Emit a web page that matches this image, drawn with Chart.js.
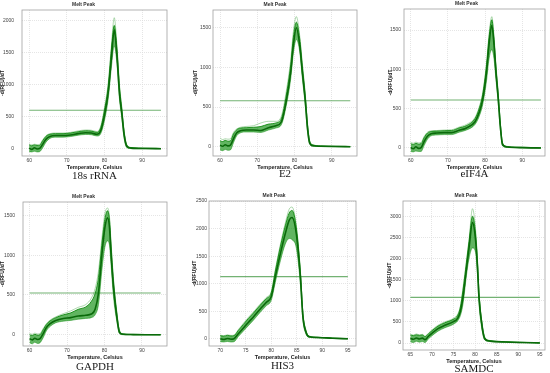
<!DOCTYPE html>
<html>
<head>
<meta charset="utf-8">
<script src="https://cdn.jsdelivr.net/npm/chart.js@4.4.0/dist/chart.umd.min.js"></script>
<style>
  body { margin: 0; background: #fff; }
  #wrap { position: relative; width: 550px; height: 373px; overflow: hidden; }
  canvas { position: absolute; }
  .cap { position: absolute; width: 120px; text-align: center; font-family: "Liberation Serif", serif; font-size: 11px; line-height: 12px; color: #1a1a1a; }
</style>
</head>
<body>
<div id="wrap"></div>
<script>
// 18s rRNA
const rrnaTemps = [60, 60.7, 61.4, 62.1, 62.8, 63.6, 64.5, 65.5, 67, 69, 71, 73, 75, 76.5, 78, 79, 80, 81, 81.8, 82.6, 83.3, 84, 84.6, 85.2, 85.9, 87, 91, 95];
const rrnaMid = [10, -10, 15, -5, 5, 70, 150, 190, 205, 205, 215, 235, 250, 245, 225, 280, 520, 880, 1380, 1850, 1450, 850, 550, 220, 40, 10, 4, 0];
const rrnaHi  = [60, 45, 60, 50, 55, 125, 195, 225, 235, 235, 245, 265, 280, 275, 255, 330, 600, 980, 1520, 1920, 1560, 950, 620, 270, 60, 18, 8, 4];
const rrnaTop = [75, 60, 70, 65, 70, 140, 205, 235, 245, 245, 255, 278, 292, 288, 268, 350, 640, 1030, 1580, 2040, 1620, 990, 650, 290, 70, 20, 9, 5];
const rrnaLo  = [-45, -50, -40, -50, -45, 15, 105, 160, 180, 180, 190, 210, 222, 218, 198, 235, 440, 780, 1250, 1600, 1330, 760, 480, 170, 20, 3, 0, -2];
const rrnaThreshold = 600;
const rrnaXTicks = [60, 70, 80, 90];
const rrnaYTicks = [0, 500, 1000, 1500, 2000];

// E2
const e2Temps = [60, 60.7, 61.4, 62.1, 62.8, 63.6, 64.5, 65.5, 67, 69, 71, 73, 75, 76.5, 77.8, 79, 79.7, 80.5, 81.4, 82.1, 82.9, 83.5, 84.1, 85, 87, 91, 95];
const e2Mid = [20, 5, 25, 10, 20, 100, 175, 200, 210, 210, 205, 240, 265, 315, 580, 945, 1280, 1500, 1280, 945, 580, 232, 45, 12, 6, 2, 0];
const e2Hi  = [75, 65, 80, 70, 75, 160, 215, 235, 240, 245, 255, 285, 300, 360, 650, 1040, 1380, 1570, 1360, 1020, 640, 280, 65, 22, 10, 5, 2];
const e2Top = [110, 90, 100, 95, 100, 180, 225, 245, 255, 265, 300, 320, 320, 390, 700, 1100, 1450, 1640, 1400, 1060, 670, 300, 75, 25, 12, 6, 3];
const e2Lo  = [-40, -50, -35, -45, -40, 50, 140, 175, 185, 185, 180, 210, 235, 280, 520, 860, 1180, 1350, 1200, 870, 520, 190, 30, 6, 2, 0, -2];
const e2Threshold = 580;
const e2XTicks = [60, 70, 80, 90];
const e2YTicks = [0, 500, 1000, 1500];

// eIF4A
const eifTemps = [60, 60.7, 61.4, 62.1, 62.8, 63.6, 64.5, 65.5, 67, 69, 71, 73, 75, 77.3, 78.4, 79.35, 80.4, 81.05, 81.8, 82.4, 82.9, 83.55, 84.1, 84.7, 86, 90, 95];
const eifMid = [5, -10, 15, -5, 5, 80, 150, 180, 190, 195, 195, 225, 255, 334, 450, 614, 970, 1309, 1560, 1309, 970, 614, 270, 40, 12, 4, 0];
const eifHi  = [55, 45, 60, 50, 55, 130, 190, 210, 215, 220, 222, 255, 285, 375, 500, 680, 1060, 1400, 1630, 1380, 1040, 670, 310, 60, 18, 8, 3];
const eifTop = [70, 60, 75, 65, 70, 145, 200, 218, 222, 228, 232, 265, 300, 390, 520, 700, 1090, 1440, 1670, 1420, 1070, 690, 320, 65, 20, 9, 4];
const eifLo  = [-45, -50, -40, -45, -45, 30, 110, 155, 165, 170, 170, 200, 228, 300, 400, 550, 860, 1130, 1250, 1130, 880, 560, 230, 25, 6, 1, -2];
const eifThreshold = 610;
const eifXTicks = [60, 70, 80, 90];
const eifYTicks = [0, 500, 1000, 1500];

// GAPDH
const gapdhTemps = [60, 60.7, 61.4, 62.1, 62.8, 63.6, 64.5, 65.5, 67, 69, 71, 73, 75, 76.5, 77.5, 78.4, 79.4, 80.1, 80.8, 81.35, 81.7, 82.4, 83.3, 84, 85, 87, 91, 95];
const gapdhMid = [-50, -65, -45, -60, -50, 10, 90, 140, 180, 205, 215, 235, 245, 260, 320, 525, 1054, 1345, 1470, 1345, 1054, 600, 220, 30, 5, 2, 0, 0];
const gapdhHi  = [0, -10, 5, -5, 0, 60, 130, 175, 215, 250, 275, 320, 350, 420, 520, 720, 1180, 1450, 1560, 1440, 1170, 680, 270, 50, 10, 4, 2, 1];
const gapdhTop = [15, 5, 20, 10, 15, 75, 140, 185, 225, 265, 300, 345, 380, 460, 580, 800, 1250, 1520, 1595, 1480, 1210, 710, 290, 60, 12, 5, 3, 1];
const gapdhLo  = [-100, -115, -95, -110, -100, -40, 50, 105, 150, 170, 180, 195, 205, 215, 250, 380, 850, 1100, 1180, 1120, 920, 480, 170, 15, 0, -2, -3, -3];
const gapdhThreshold = 525;
const gapdhXTicks = [60, 70, 80, 90];
const gapdhYTicks = [0, 500, 1000, 1500];

// HIS3
const his3Temps = [70, 70.7, 71.4, 72.1, 72.7, 73.5, 74.5, 75.5, 76.5, 77.8, 79, 80, 80.8, 81.8, 82.75, 83.5, 84.06, 84.9, 85.7, 86.2, 86.8, 87.4, 89, 92, 95];
const his3Mid = [5, -10, 10, -5, 5, 90, 195, 300, 400, 540, 660, 770, 1130, 1550, 1910, 2150, 2200, 1910, 1130, 400, 120, 40, 28, 14, 3];
const his3Hi  = [60, 50, 65, 55, 60, 150, 260, 370, 470, 610, 730, 840, 1230, 1680, 2050, 2280, 2330, 2020, 1220, 460, 150, 50, 32, 16, 5];
const his3Top = [70, 60, 75, 65, 70, 165, 280, 390, 490, 630, 750, 860, 1260, 1720, 2100, 2350, 2390, 2060, 1250, 480, 160, 55, 34, 17, 6];
const his3Lo  = [-50, -55, -45, -55, -50, 40, 140, 240, 340, 480, 600, 700, 1030, 1420, 1720, 1820, 1800, 1650, 1000, 340, 90, 30, 22, 10, 0];
const his3Threshold = 1130;
const his3XTicks = [70, 75, 80, 85, 90, 95];
const his3YTicks = [0, 500, 1000, 1500, 2000, 2500];

// SAMDC
const samdcTemps = [65, 65.7, 66.4, 67.1, 67.8, 68.4, 69.2, 70, 71.4, 73, 74.9, 76, 76.6, 77.2, 78, 78.6, 79.4, 80.1, 80.6, 80.9, 81.7, 82.3, 83.5, 87, 91, 95];
const samdcMid = [110, 90, 120, 95, 115, 80, 160, 230, 340, 420, 500, 590, 750, 1080, 1750, 2250, 2850, 2450, 1700, 1080, 330, 90, 45, 25, 12, 2];
const samdcHi  = [190, 175, 195, 180, 190, 150, 220, 290, 400, 480, 560, 660, 850, 1250, 1900, 2400, 3000, 2600, 1850, 1200, 400, 120, 55, 30, 15, 4];
const samdcTop = [210, 190, 215, 195, 205, 165, 235, 310, 420, 500, 580, 690, 880, 1300, 1950, 2450, 3180, 2700, 1900, 1230, 420, 130, 60, 32, 16, 5];
const samdcLo  = [30, 10, 40, 20, 35, 10, 100, 170, 280, 360, 440, 530, 650, 920, 1600, 2000, 2250, 2150, 1550, 950, 260, 65, 35, 18, 8, 0];
const samdcThreshold = 1080;
const samdcXTicks = [65, 70, 75, 80, 85, 90, 95];
const samdcYTicks = [0, 500, 1000, 1500, 2000, 2500, 3000];

const panels = [
    { name: '18s rRNA', temps: rrnaTemps, mid: rrnaMid, hi: rrnaHi, top: rrnaTop, lo: rrnaLo, thr: rrnaThreshold,
      xt: rrnaXTicks, yt: rrnaYTicks,
      box: { l: 22, t: 9, r: 167, b: 156 }, x: [58.1, 96.6], y: [-113, 2160], yw: 22, gap: 8, capY: 175 },
    { name: 'E2', temps: e2Temps, mid: e2Mid, hi: e2Hi, top: e2Top, lo: e2Lo, thr: e2Threshold,
      xt: e2XTicks, yt: e2YTicks,
      box: { l: 213, t: 10, r: 357, b: 156 }, x: [58.1, 96.8], y: [-117, 1723], yw: 20, gap: 2, capY: 173 },
    { name: 'eIF4A', temps: eifTemps, mid: eifMid, hi: eifHi, top: eifTop, lo: eifLo, thr: eifThreshold,
      xt: eifXTicks, yt: eifYTicks,
      box: { l: 404, t: 9, r: 545, b: 156 }, x: [58.2, 96.1], y: [-102, 1767], yw: 16, gap: 3, capY: 173 },
    { name: 'GAPDH', temps: gapdhTemps, mid: gapdhMid, hi: gapdhHi, top: gapdhTop, lo: gapdhLo, thr: gapdhThreshold,
      xt: gapdhXTicks, yt: gapdhYTicks,
      box: { l: 23, t: 201, r: 167, b: 346 }, x: [58.24, 96.7], y: [-142, 1670], yw: 23, gap: 8, capY: 366 },
    { name: 'HIS3', temps: his3Temps, mid: his3Mid, hi: his3Hi, top: his3Top, lo: his3Lo, thr: his3Threshold,
      xt: his3XTicks, yt: his3YTicks,
      box: { l: 209, t: 201, r: 356, b: 346 }, x: [67.8, 96.6], y: [-127, 2500], yw: 17, gap: 2, capY: 365 },
    { name: 'SAMDC', temps: samdcTemps, mid: samdcMid, hi: samdcHi, top: samdcTop, lo: samdcLo, thr: samdcThreshold,
      xt: samdcXTicks, yt: samdcYTicks,
      box: { l: 403, t: 201, r: 545, b: 350 }, x: [63.3, 96.2], y: [-165, 3361], yw: 16, gap: 2, capY: 368 }
];

Chart.defaults.font.family = '"Liberation Sans", Arial, sans-serif';

// рамка вокруг области графика
const framePlugin = {
    id: 'frame',
    beforeDatasetsDraw(chart) {
        const { ctx, chartArea: a } = chart;
        ctx.save();
        ctx.strokeStyle = '#a0a0a0';
        ctx.lineWidth = 0.8;
        ctx.strokeRect(a.left, a.top, a.right - a.left, a.bottom - a.top);
        ctx.restore();
    }
};

function pts(xs, ys) {
    return xs.map((x, i) => ({ x: x, y: ys[i] }));
}

function curve(data, color, width, extra) {
    return Object.assign({
        data: data,
        borderColor: color,
        borderWidth: width,
        pointRadius: 0,
        cubicInterpolationMode: 'monotone',
        fill: false
    }, extra || {});
}

function buildPanel(p) {
    const wrap = document.getElementById('wrap');
    const left = p.box.l - p.yw;
    const top = p.box.t - 10;
    const w = p.box.r - left + 3;
    const h = p.box.b - top + 16;

    const cv = document.createElement('canvas');
    cv.width = w;
    cv.height = h;
    cv.style.left = left + 'px';
    cv.style.top = top + 'px';
    wrap.appendChild(cv);

    const last = p.temps.length - 1;
    new Chart(cv.getContext('2d'), {
        type: 'line',
        data: {
            datasets: [
                curve(pts(p.temps, p.mid), '#0a6a0a', 1.6),
                curve(pts(p.temps, p.hi), 'rgba(0,130,0,0.8)', 1, { fill: 3, backgroundColor: 'rgba(0,135,0,0.62)' }),
                curve(pts(p.temps, p.top), 'rgba(70,165,70,0.55)', 0.8),
                curve(pts(p.temps, p.lo), 'rgba(40,150,40,0.6)', 0.9),
                curve([{ x: p.temps[0], y: p.thr }, { x: p.temps[last], y: p.thr }], 'rgba(90,165,90,0.85)', 1.1)
            ]
        },
        options: {
            responsive: false,
            animation: false,
            events: [],
            layout: { padding: { right: 3 } },
            plugins: {
                legend: { display: false },
                tooltip: { enabled: false },
                title: {
                    display: true, text: 'Melt Peak', color: '#333',
                    font: { size: 5, weight: 'bold' }, padding: { top: 2, bottom: 2 }
                }
            },
            scales: {
                x: {
                    type: 'linear', min: p.x[0], max: p.x[1],
                    afterBuildTicks: s => { s.ticks = p.xt.map(v => ({ value: v })); },
                    afterFit: s => { s.height = 16; },
                    ticks: { font: { size: 5 }, color: '#444', padding: 2, maxRotation: 0, autoSkip: false, callback: v => String(v) },
                    grid: { color: '#dadada', lineWidth: 0.7, drawTicks: false },
                    border: { display: false, dash: [1, 1] },
                    title: { display: true, text: 'Temperature, Celsius', color: '#222', font: { size: 5.5, weight: 'bold' }, padding: { top: 0, bottom: 1 } }
                },
                y: {
                    type: 'linear', min: p.y[0], max: p.y[1],
                    afterBuildTicks: s => { s.ticks = p.yt.map(v => ({ value: v })); },
                    afterFit: s => { s.width = p.yw; },
                    ticks: { font: { size: 5 }, color: '#444', padding: p.gap, autoSkip: false, callback: v => String(v) },
                    grid: { color: '#dadada', lineWidth: 0.7, drawTicks: false },
                    border: { display: false, dash: [1, 1] },
                    title: { display: true, text: '-d(RFU)/dT', color: '#222', font: { size: 5, weight: 'bold' }, padding: { top: 0, bottom: 0 } }
                }
            }
        },
        plugins: [framePlugin]
    });

    const cap = document.createElement('div');
    cap.className = 'cap';
    cap.textContent = p.name;
    cap.style.left = ((p.box.l + p.box.r) / 2 - 60) + 'px';
    cap.style.top = (p.capY - 6) + 'px';
    wrap.appendChild(cap);
}

panels.forEach(buildPanel);
</script>
</body>
</html>
